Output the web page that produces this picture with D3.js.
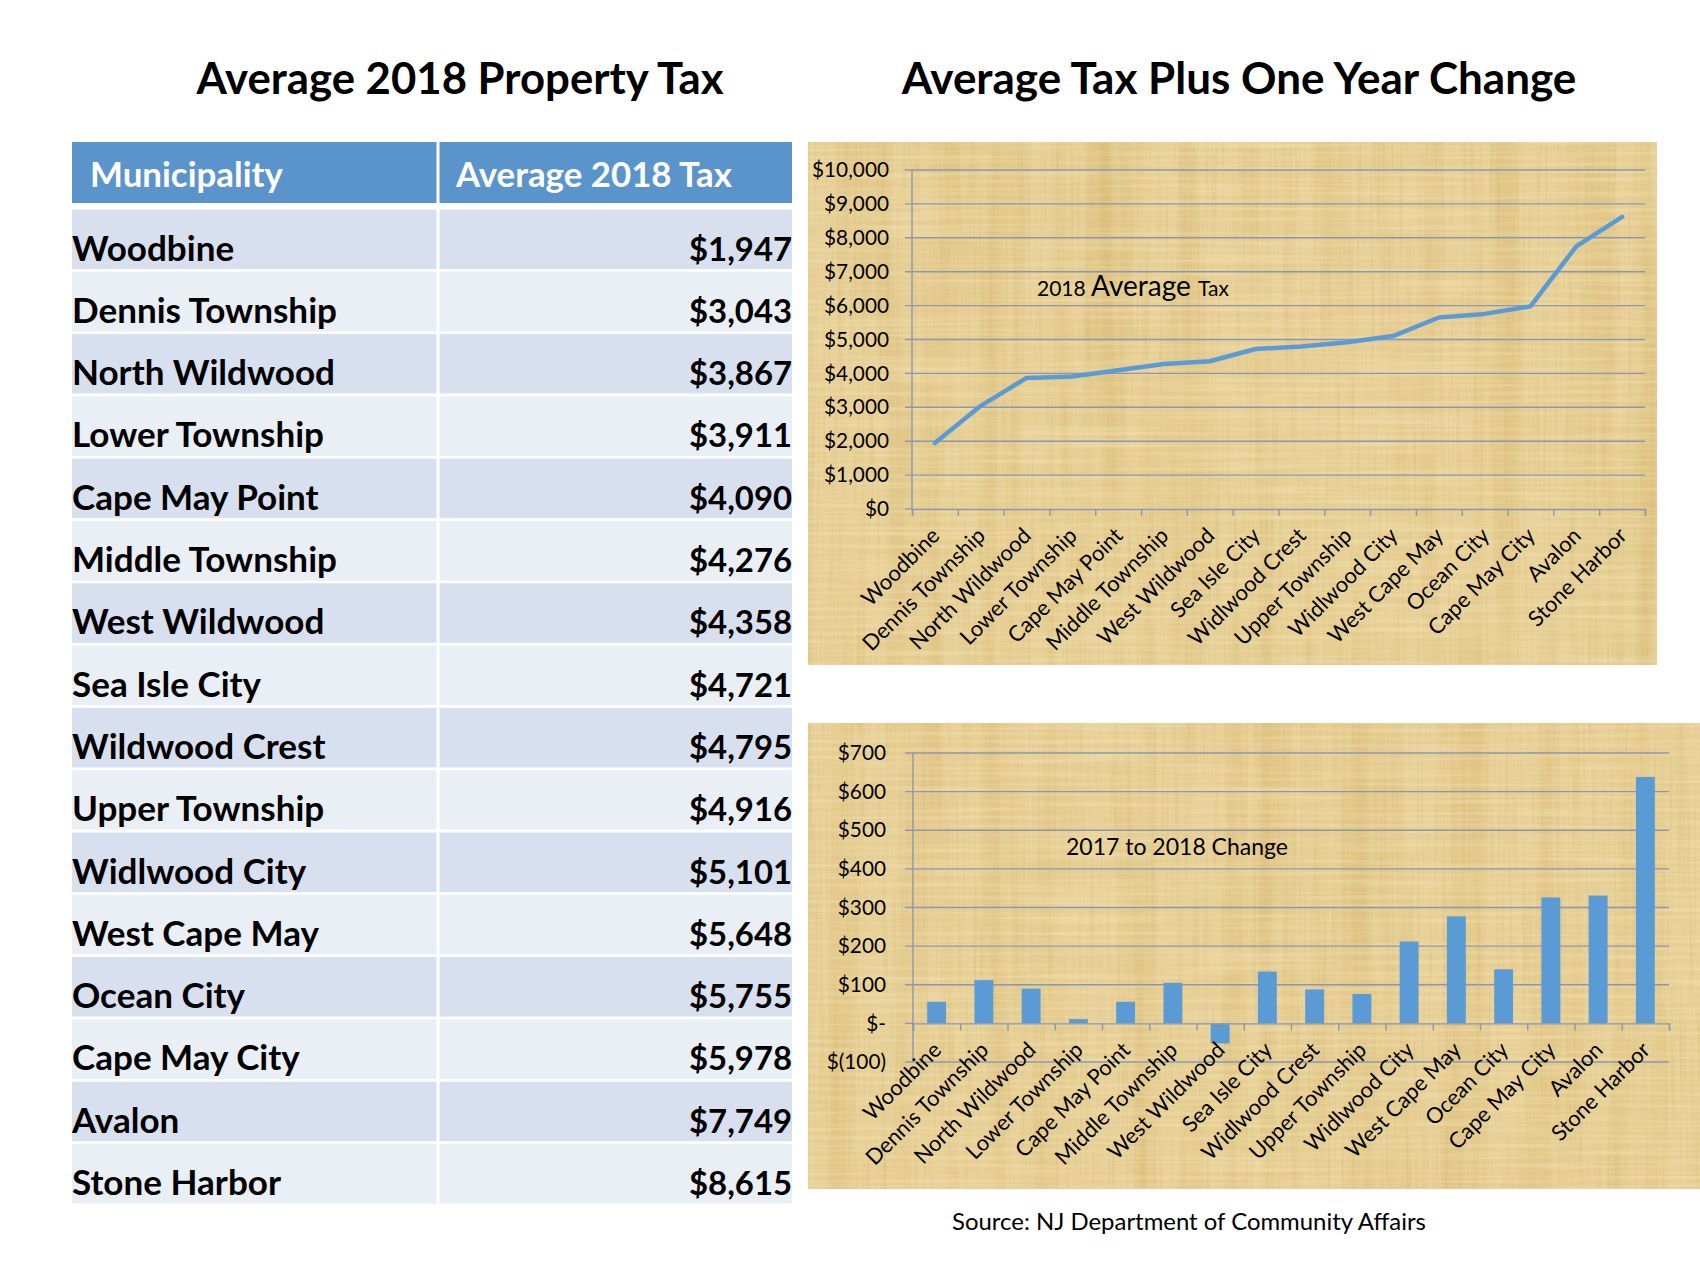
<!DOCTYPE html>
<html>
<head>
<meta charset="utf-8">
<script src="https://cdn.jsdelivr.net/npm/d3@7"></script>
<style>
  html, body { margin: 0; padding: 0; background: #fff; }
  svg { display: block; }
</style>
</head>
<body>
<svg id="chart" width="1700" height="1275"></svg>
<script>
// ---------------- DATA ----------------
const tableNames = ["Woodbine", "Dennis Township", "North Wildwood", "Lower Township", "Cape May Point",
  "Middle Township", "West Wildwood", "Sea Isle City", "Wildwood Crest", "Upper Township",
  "Widlwood City", "West Cape May", "Ocean City", "Cape May City", "Avalon", "Stone Harbor"];
const chartLabels = ["Woodbine", "Dennis Township", "North Wildwood", "Lower Township", "Cape May Point",
  "Middle Township", "West Wildwood", "Sea Isle City", "Widlwood Crest", "Upper Township",
  "Widlwood City", "West Cape May", "Ocean City", "Cape May City", "Avalon", "Stone Harbor"];
const avgTax2018 = [1947, 3043, 3867, 3911, 4090, 4276, 4358, 4721, 4795, 4916, 5101, 5648, 5755, 5978, 7749, 8615];
const change2017to2018 = [56, 112, 90, 11, 56, 105, -52, 134, 88, 76, 212, 277, 140, 326, 331, 638];
const taxTicks = [0, 1000, 2000, 3000, 4000, 5000, 6000, 7000, 8000, 9000, 10000];
const changeTicks = [-100, 0, 100, 200, 300, 400, 500, 600, 700];

const titleLeft = "Average 2018 Property Tax";
const titleRight = "Average Tax Plus One Year Change";
const headerCols = ["Municipality", "Average 2018 Tax"];
const sourceText = "Source: NJ Department of Community Affairs";

// ---------------- SETUP ----------------
const svg = d3.select("#chart");
const FONT = "Lato, 'Open Sans', sans-serif";

function measure(str, weight, size) {
  const t = svg.append("text").attr("font-family", FONT).attr("font-weight", weight)
    .attr("font-size", size).text(str);
  const w = t.node().getComputedTextLength();
  t.remove();
  return w;
}
function fitSize(str, weight, target) {
  return 100 * target / measure(str, weight, 100);
}

// defs: papyrus texture
const defs = svg.append("defs");
const f = defs.append("filter").attr("id", "papyrus").attr("x", 0).attr("y", 0).attr("width", 1).attr("height", 1)
  .attr("filterUnits", "objectBoundingBox").attr("color-interpolation-filters", "sRGB");
// broad vertical darker bands
f.append("feTurbulence").attr("type", "fractalNoise").attr("baseFrequency", "0.035 0.0015")
  .attr("numOctaves", 3).attr("seed", 7).attr("result", "n1");
f.append("feColorMatrix").attr("in", "n1").attr("type", "matrix")
  .attr("values", "0 0 0 0 0.82  0 0 0 0 0.69  0 0 0 0 0.40  1.2 0 0 0 -0.52").attr("result", "c1");
// fine vertical fibres
f.append("feTurbulence").attr("type", "fractalNoise").attr("baseFrequency", "0.35 0.008")
  .attr("numOctaves", 2).attr("seed", 3).attr("result", "n3");
f.append("feColorMatrix").attr("in", "n3").attr("type", "matrix")
  .attr("values", "0 0 0 0 0.83  0 0 0 0 0.71  0 0 0 0 0.44  1.0 0 0 0 -0.47").attr("result", "c3");
// faint horizontal weave (light)
f.append("feTurbulence").attr("type", "fractalNoise").attr("baseFrequency", "0.006 0.25")
  .attr("numOctaves", 2).attr("seed", 11).attr("result", "n2");
f.append("feColorMatrix").attr("in", "n2").attr("type", "matrix")
  .attr("values", "0 0 0 0 0.97  0 0 0 0 0.91  0 0 0 0 0.74  1.0 0 0 0 -0.42").attr("result", "c2");
const fm = f.append("feMerge");
fm.append("feMergeNode").attr("in", "c1");
fm.append("feMergeNode").attr("in", "c3");
fm.append("feMergeNode").attr("in", "c2");

function panel(x, y, w, h) {
  svg.append("rect").attr("x", x).attr("y", y).attr("width", w).attr("height", h).attr("fill", "#E8D198");
  svg.append("rect").attr("x", x).attr("y", y).attr("width", w).attr("height", h)
    .attr("fill", "#fff").attr("filter", "url(#papyrus)");
}

// ---------------- TITLES ----------------
svg.append("text").attr("x", 460).attr("y", 94).attr("text-anchor", "middle")
  .attr("font-family", FONT).attr("font-weight", 700).attr("font-size", fitSize(titleLeft, 700, 527)).attr("fill", "#000")
  .text(titleLeft);
svg.append("text").attr("x", 1239).attr("y", 94).attr("text-anchor", "middle")
  .attr("font-family", FONT).attr("font-weight", 700).attr("font-size", fitSize(titleRight, 700, 675)).attr("fill", "#000")
  .text(titleRight);

// ---------------- TABLE ----------------
const tLeft = 72, tRight = 792, tDiv = 438;
const rowTop0 = 209.5, rowPitch = 62.3, rowH = 59.5;
const rowIdx = d3.range(tableNames.length);
svg.append("rect").attr("x", tLeft).attr("y", 142).attr("width", tRight - tLeft).attr("height", 61).attr("fill", "#5B94CB");
const tbl = svg.append("g");
tbl.selectAll("rect.row").data(rowIdx).join("rect").attr("class", "row")
  .attr("x", tLeft).attr("width", tRight - tLeft)
  .attr("y", i => rowTop0 + i * rowPitch).attr("height", rowH)
  .attr("fill", i => i % 2 === 0 ? "#D8DFEE" : "#EAEEF5");
svg.append("line").attr("x1", tDiv).attr("x2", tDiv).attr("y1", 142).attr("y2", 1205)
  .attr("stroke", "#fff").attr("stroke-width", 3);

svg.append("text").attr("x", 90).attr("y", 187).attr("font-family", FONT).attr("font-weight", 700)
  .attr("font-size", fitSize(headerCols[0], 700, 193)).attr("fill", "#fff").text(headerCols[0]);
svg.append("text").attr("x", 456).attr("y", 187).attr("font-family", FONT).attr("font-weight", 700)
  .attr("font-size", fitSize(headerCols[1], 700, 276)).attr("fill", "#fff").text(headerCols[1]);

const rowSize = fitSize("Dennis Township", 700, 265);
const valSize = Math.min(rowSize, fitSize("$3,043", 700, 103));
tbl.selectAll("text.name").data(rowIdx).join("text").attr("class", "name")
  .attr("x", tLeft).attr("y", i => rowTop0 + i * rowPitch + 51)
  .attr("font-family", FONT).attr("font-weight", 700).attr("font-size", rowSize).attr("fill", "#000")
  .text(i => tableNames[i]);
const moneyFmt = d3.format("$,");
tbl.selectAll("text.val").data(rowIdx).join("text").attr("class", "val")
  .attr("x", tRight).attr("y", i => rowTop0 + i * rowPitch + 51).attr("text-anchor", "end")
  .attr("font-family", FONT).attr("font-weight", 700).attr("font-size", valSize).attr("fill", "#000")
  .text(i => moneyFmt(avgTax2018[i]));

// ---------------- COMMON ----------------
const gridColor = "#8C97AD";
const axisSize = fitSize("$10,000", 400, 77);
const xLabSize = fitSize("Dennis Township", 400, 163);

function xLabels(g, xs, axisY) {
  g.selectAll("text.xl").data(d3.range(chartLabels.length)).join("text").attr("class", "xl")
    .attr("transform", i => `translate(${xs(chartLabels[i]) + xs.bandwidth() / 2 + 6},${axisY + 28}) rotate(-45)`)
    .attr("text-anchor", "end").attr("font-family", FONT).attr("font-size", xLabSize).attr("fill", "#000")
    .text(i => chartLabels[i]);
}

// ---------------- TOP CHART (line) ----------------
panel(808, 142, 849, 523);
const g1 = svg.append("g");
const x1 = d3.scaleBand().domain(chartLabels).range([912, 1645]).paddingInner(0).paddingOuter(0);
const y1 = d3.scaleLinear().domain([0, 10000]).range([509, 170]);

g1.selectAll("line.grid").data(taxTicks.filter(d => d !== 0)).join("line").attr("class", "grid")
  .attr("x1", 905).attr("x2", 1645).attr("y1", d => y1(d)).attr("y2", d => y1(d))
  .attr("stroke", gridColor).attr("stroke-width", 1.4);
g1.append("line").attr("x1", 912).attr("x2", 912).attr("y1", y1(10000)).attr("y2", y1(0))
  .attr("stroke", gridColor).attr("stroke-width", 1.4);
const x1Edges = d3.scaleLinear().domain([0, chartLabels.length]).range([912, 1645]);
const xa1 = g1.append("g").attr("transform", `translate(0,${y1(0)})`)
  .call(d3.axisBottom(x1Edges).tickValues(d3.range(chartLabels.length + 1)).tickSize(7).tickFormat(""));
xa1.select(".domain").attr("stroke", gridColor).attr("stroke-width", 1.4);
xa1.selectAll(".tick line").attr("stroke", gridColor).attr("stroke-width", 1.4);
g1.append("line").attr("x1", 905).attr("x2", 912).attr("y1", y1(0)).attr("y2", y1(0))
  .attr("stroke", gridColor).attr("stroke-width", 1.4);

const ya1 = g1.append("g").attr("transform", "translate(912,0)")
  .call(d3.axisLeft(y1).tickValues(taxTicks).tickSize(0).tickPadding(23).tickFormat(d3.format("$,")));
ya1.select(".domain").remove();
ya1.selectAll("text").attr("font-family", FONT).attr("font-size", axisSize).attr("fill", "#000");

const line = d3.line().x(i => x1(chartLabels[i]) + x1.bandwidth() / 2).y(i => y1(avgTax2018[i]));
g1.append("path").datum(d3.range(avgTax2018.length)).attr("d", line)
  .attr("fill", "none").attr("stroke", "#5B9BD5").attr("stroke-width", 4.5)
  .attr("stroke-linejoin", "round").attr("stroke-linecap", "round");

xLabels(g1, x1, y1(0));

const lab1 = g1.append("text").attr("x", 1037).attr("y", 296).attr("font-family", FONT).attr("fill", "#000");
lab1.append("tspan").attr("font-size", 21).text("2018 ");
lab1.append("tspan").attr("font-size", 28).text("Average ");
lab1.append("tspan").attr("font-size", 21).text("Tax");

// ---------------- BOTTOM CHART (bars) ----------------
panel(808, 723, 892, 466);
const g2 = svg.append("g");
const x2 = d3.scaleBand().domain(chartLabels).range([913, 1669]).paddingInner(0.6).paddingOuter(0.3);
const y2 = d3.scaleLinear().domain([-100, 700]).range([1062, 753]);

g2.selectAll("line.grid").data(changeTicks.filter(d => d !== 0)).join("line").attr("class", "grid")
  .attr("x1", 905).attr("x2", 1669).attr("y1", d => y2(d)).attr("y2", d => y2(d))
  .attr("stroke", gridColor).attr("stroke-width", 1.4);
g2.append("line").attr("x1", 913).attr("x2", 913).attr("y1", y2(700)).attr("y2", y2(-100))
  .attr("stroke", gridColor).attr("stroke-width", 1.4);

g2.selectAll("rect.bar").data(d3.range(change2017to2018.length)).join("rect").attr("class", "bar")
  .attr("x", i => x2(chartLabels[i])).attr("width", x2.bandwidth())
  .attr("y", i => y2(Math.max(0, change2017to2018[i])))
  .attr("height", i => Math.abs(y2(change2017to2018[i]) - y2(0)))
  .attr("fill", "#5B9BD5");

const x2Edges = d3.scaleLinear().domain([0, chartLabels.length]).range([913, 1669]);
const xa2 = g2.append("g").attr("transform", `translate(0,${y2(0)})`)
  .call(d3.axisBottom(x2Edges).tickValues(d3.range(chartLabels.length + 1)).tickSize(7).tickFormat(""));
xa2.select(".domain").attr("stroke", gridColor).attr("stroke-width", 1.4);
xa2.selectAll(".tick line").attr("stroke", gridColor).attr("stroke-width", 1.4);
g2.append("line").attr("x1", 905).attr("x2", 913).attr("y1", y2(0)).attr("y2", y2(0))
  .attr("stroke", gridColor).attr("stroke-width", 1.4);

const acctFmt = d => d === 0 ? "$-" : (d < 0 ? "$(" + Math.abs(d) + ")" : "$" + d);
const ya2 = g2.append("g").attr("transform", "translate(913,0)")
  .call(d3.axisLeft(y2).tickValues(changeTicks).tickSize(0).tickPadding(27).tickFormat(acctFmt));
ya2.select(".domain").remove();
ya2.selectAll("text").attr("font-family", FONT).attr("font-size", axisSize).attr("fill", "#000");

xLabels(g2, x2, y2(0));

g2.append("text").attr("x", 1066).attr("y", 855).attr("font-family", FONT)
  .attr("font-size", fitSize("2017 to 2018 Change", 400, 222)).attr("fill", "#000").text("2017 to 2018 Change");

// ---------------- SOURCE ----------------
svg.append("text").attr("x", 1189).attr("y", 1230).attr("text-anchor", "middle").attr("font-family", FONT)
  .attr("font-size", fitSize(sourceText, 400, 474)).attr("fill", "#000").text(sourceText);
</script>
</body>
</html>
